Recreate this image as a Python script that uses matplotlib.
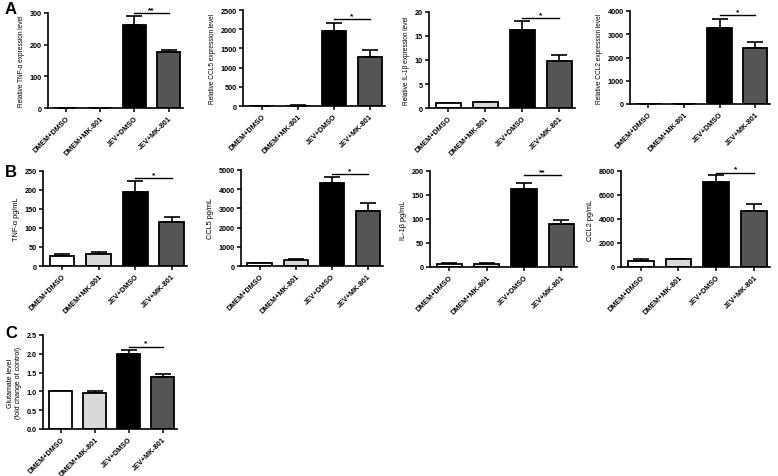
import matplotlib
matplotlib.use("Agg")
import matplotlib.pyplot as plt

plt.rcParams["font.family"] = ["Liberation Sans", "DejaVu Sans"]
plt.rcParams["font.weight"] = "bold"

W, H = 778, 477

groups = ["DMEM+DMSO", "DMEM+MK-801", "JEV+DMSO", "JEV+MK-801"]
bar_colors = ["white", "#d9d9d9", "black", "#555555"]

# panel A: relative mRNA expression
tnf_rel = [1.0, 1.2, 262, 176]
tnf_rel_err = [0.3, 0.3, 30, 8]
ccl5_rel = [1.0, 12, 1951, 1280]
ccl5_rel_err = [0.5, 2, 209, 183]
il1b_rel = [1.0, 1.2, 16.2, 9.7]
il1b_rel_err = [0.1, 0.1, 2.0, 1.3]
ccl2_rel = [1.0, 18, 3257, 2400]
ccl2_rel_err = [0.5, 3, 400, 286]

# panel B: protein levels (pg/mL)
tnf_pg = [26, 32, 194, 116]
tnf_pg_err = [5, 4, 29, 13]
ccl5_pg = [139, 310, 4323, 2847]
ccl5_pg_err = [40, 60, 295, 452]
il1b_pg = [7, 7, 162, 89]
il1b_pg_err = [0.8, 0.8, 13, 8]
ccl2_pg = [500, 640, 7111, 4639]
ccl2_pg_err = [190, 50, 528, 583]

# panel C: glutamate
glu = [1.0, 0.95, 1.99, 1.39]
glu_err = [0.02, 0.06, 0.11, 0.06]

panels = [
    # data, err, ymax, step, ylabel, sig text, sig y, pixel box, label size
    (tnf_rel, tnf_rel_err, 300, 100, "Relative TNF-\u03b1 expression level", "**", 300, (48, 183, 14, 109), 4.7),
    (ccl5_rel, ccl5_rel_err, 2500, 500, "Relative CCL5 expression level", "*", 2256, (243, 385, 11, 107), 4.7),
    (il1b_rel, il1b_rel_err, 20, 5, "Relative IL-1\u03b2 expression level", "*", 18.8, (429, 575, 13, 109), 4.7),
    (ccl2_rel, ccl2_rel_err, 4000, 1000, "Relative CCL2 expression level", "*", 3830, (630, 770, 12, 105), 4.7),
    (tnf_pg, tnf_pg_err, 250, 50, "TNF-\u03b1 pg/mL", "*", 231, (43, 187, 172, 267), 5.3),
    (ccl5_pg, ccl5_pg_err, 5000, 1000, "CCL5 pg/mL", "*", 4774, (241, 383, 171, 267), 5.3),
    (il1b_pg, il1b_pg_err, 200, 50, "IL-1\u03b2 pg/mL", "**", 191, (430, 577, 172, 268), 5.3),
    (ccl2_pg, ccl2_pg_err, 8000, 2000, "CCL2 pg/mL", "*", 7860, (621, 770, 172, 268), 5.3),
    (glu, glu_err, 2.5, 0.5, "Glutamate level\n(fold change of control)", "*", 2.19, (43, 177, 336, 430), 5.0),
]

fig = plt.figure(figsize=(W / 100, H / 100), dpi=100)

for vals, errs, ymax, step, ylabel, sig, sig_y, box, lsize in panels:
    x0, x1, ytop, ybot = box
    ax = fig.add_axes([x0 / W, 1 - ybot / H, (x1 - x0) / W, (ybot - ytop) / H])
    x = list(range(len(groups)))
    ax.bar(x, vals, width=0.68, color=bar_colors, edgecolor="black", linewidth=1.3, zorder=2)
    ax.errorbar(x, vals, yerr=[[0] * len(errs), errs], fmt="none", ecolor="black",
                elinewidth=1.2, capsize=5.5, capthick=1.2, zorder=1)
    ax.plot([2, 3], [sig_y, sig_y], color="black", lw=1.0, clip_on=False)
    ax.text(2.5, sig_y, sig, ha="center", va="bottom", fontsize=6)
    ax.set_xlim(-0.52, 3.42)
    ax.set_ylim(0, ymax)
    n = int(round(ymax / step))
    ticks = [step * i for i in range(n + 1)]
    ax.set_yticks(ticks)
    if step < 1:
        ax.set_yticklabels([f"{t:.1f}" for t in ticks])
    ax.set_xticks(x)
    ax.set_xticklabels(groups, rotation=45, ha="right", rotation_mode="anchor")
    ax.tick_params(axis="both", labelsize=5.2, width=1.1, length=3, pad=1.5)
    for s in ["top", "right"]:
        ax.spines[s].set_visible(False)
    for s in ["left", "bottom"]:
        ax.spines[s].set_linewidth(1.2)
    ax.set_ylabel(ylabel, fontsize=lsize, labelpad=3)

fig.text(5 / W, 1 - 2 / H, "A", fontsize=12, fontweight="bold", va="top")
fig.text(5 / W, 1 - 165 / H, "B", fontsize=12, fontweight="bold", va="top")
fig.text(5 / W, 1 - 326 / H, "C", fontsize=12, fontweight="bold", va="top")

fig.savefig("out.png", dpi=100)
